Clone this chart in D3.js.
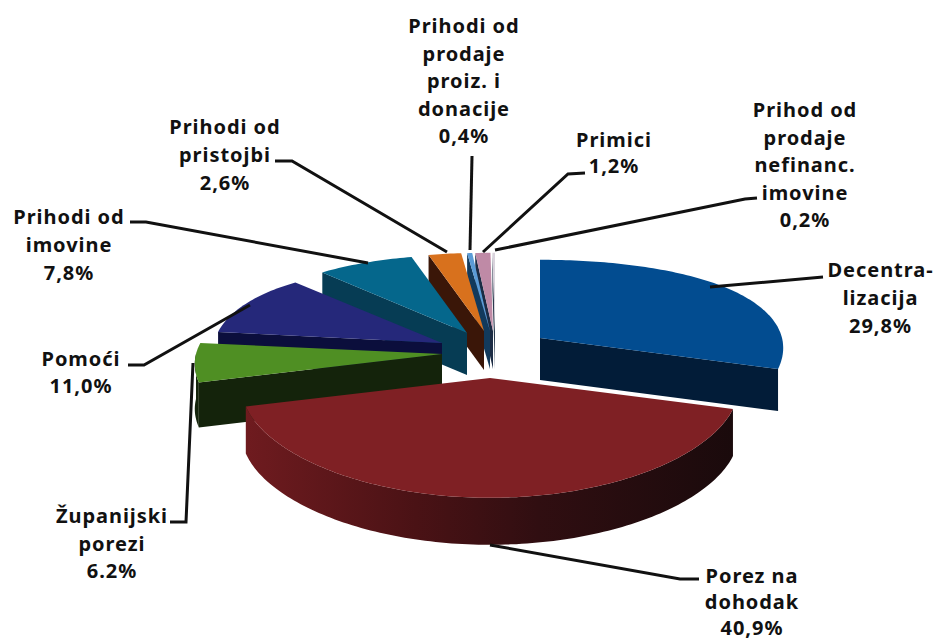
<!DOCTYPE html>
<html><head><meta charset="utf-8">
<script src="https://cdn.jsdelivr.net/npm/d3@7"></script>
<style>html,body{margin:0;background:#fff}svg{display:block}text{font-family:"Noto Sans",sans-serif;font-weight:700;font-size:20px;fill:#111;text-anchor:middle;letter-spacing:.95px}</style>
</head><body><svg id="c" width="936" height="641"></svg>
<script>
// Data (clockwise from the top of the pie)
const categories = ["Decentralizacija","Porez na dohodak","Županijski porezi","Pomoći","Prihodi od imovine","Prihodi od pristojbi","Prihodi od prodaje proiz. i donacije","Primici","Prihod od prodaje nefinanc. imovine"];
const values = [29.8,40.9,6.2,11.0,7.8,2.6,0.4,1.2,0.2];
const labelLines = [
  ["Decentra-","lizacija","29,8%"],
  ["Porez na","dohodak","40,9%"],
  ["Županijski","porezi","6.2%"],
  ["Pomoći","11,0%"],
  ["Prihodi od","imovine","7,8%"],
  ["Prihodi od","pristojbi","2,6%"],
  ["Prihodi od","prodaje","proiz. i","donacije","0,4%"],
  ["Primici","1,2%"],
  ["Prihod od","prodaje","nefinanc.","imovine","0,2%"]
];
// Styling and layout, per slice
const topColors  = ["#024c90","#7f2024","#4f8f23","#25287a","#05678c","#d8711d","#5b9bd6","#bf8aa6","#d9d3dc"];
const wallColors = ["#021c38","url(#redWall)","#14230b","#0b0e3c","#063c54","#3a1608","#123a5c","#1c2c44","#2a3a4e"];
const apexX  = [540,490,442,442,467,484,490,493,495];
const apexY  = [338,378,354,343,333,331,331,331,331];
const radius = [242,247,246,228,225,225,225,225,225];
const depth  = [42,47,45,32,42,39,38,38,38];
const drawOrder = [8,7,6,5,4,3,2,0,1];
const labelX = [880.5,752,112,81,69,225,464,614,805];
const labelY = [277,583,523,366,224,134,33,147,117];
const lineStep = [28,26,27.5,27,28,28,27.5,26,27.5];
const leaders = [
  [[710,287],[823,277]],
  [[490,545],[680,579],[699,579]],
  [[193,363],[186,522],[170,522]],
  [[250,305],[144,365],[128,365]],
  [[368,263],[146,222],[130,222]],
  [[447,252],[292,161],[275,161]],
  [[470,250],[472,156]],
  [[483,252],[568,174],[585,173]],
  [[495,250],[745,199],[757,198]]
];
const ryMid = 99, tiltY = 0.21, tiltX = 0.1;

const svg = d3.select("#c");
const grad = svg.append("defs").append("linearGradient").attr("id","redWall")
  .attr("gradientUnits","userSpaceOnUse").attr("x1",245).attr("x2",735).attr("y1",0).attr("y2",0);
[[0,"#6f1b1f"],[0.35,"#4a1215"],[0.6,"#300e11"],[1,"#1a0a0c"]].forEach(([o,c])=>grad.append("stop").attr("offset",o).attr("stop-color",c));

const arcs = d3.pie().sort(null).value(d=>d)(values);
const rim = (i,t)=>{
  const s=Math.sin(t),c=Math.cos(t);
  return [apexX[i]+radius[i]*s*(1-tiltX*c), apexY[i]-ryMid*c*(1-tiltY*c)];
};
const sample = (i,a,b)=>{
  const n=Math.max(2,Math.ceil(Math.abs(b-a)/0.02));
  return d3.range(n+1).map(k=>rim(i,a+(b-a)*k/n));
};
const line = d3.line();
const gSlices = svg.append("g");
drawOrder.forEach(i=>{
  const a=arcs[i].startAngle,b=arcs[i].endAngle,d=depth[i];
  const apex=[apexX[i],apexY[i]];
  const down=p=>[p[0],p[1]+d];
  // cut-edge wall: the left-hand slices show their start edge, the first slice its end edge
  const edge = i===0 ? rim(i,b) : rim(i,a);
  if(i!==1) gSlices.append("path").attr("d",line([apex,edge,down(edge),down(apex)])+"Z").attr("fill",wallColors[i]);
  // rim wall on the front half
  const f0=Math.max(a,Math.PI/2),f1=Math.min(b,Math.PI*1.5);
  if(f1>f0 && i!==0){
    const pts=sample(i,f0,f1);
    gSlices.append("path").attr("d",line(pts.concat(pts.slice().reverse().map(down)))+"Z").attr("fill",wallColors[i]);
  }
  gSlices.append("path").attr("d",line([apex].concat(sample(i,a,b)))+"Z").attr("fill",topColors[i]);
});
svg.append("g").selectAll("path").data(leaders).join("path")
  .attr("d",d=>line(d)).attr("fill","none").attr("stroke","#111").attr("stroke-width",3);
labelLines.forEach((ls,i)=>{
  const t=svg.append("text").attr("data-category",categories[i]);
  ls.forEach((s,k)=>t.append("tspan").attr("x",labelX[i]).attr("y",labelY[i]+k*lineStep[i]).text(s));
});
</script></body></html>
